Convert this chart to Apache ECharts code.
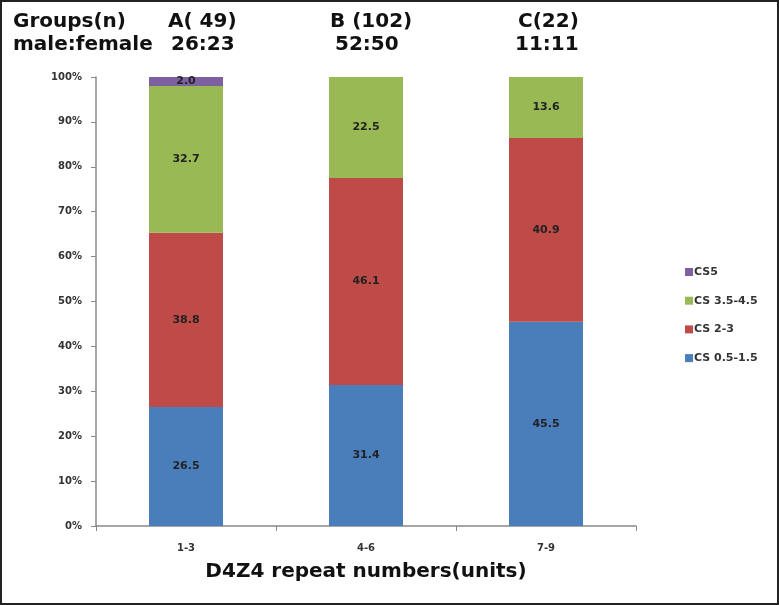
<!DOCTYPE html>
<html><head><meta charset="utf-8">
<script src="https://cdn.jsdelivr.net/npm/echarts@6/dist/echarts.min.js"></script>
<style>
html,body{margin:0;padding:0;background:#fff;}
#frame{position:absolute;left:0;top:0;width:775px;height:601px;border:2px solid #222;}
#c{position:absolute;left:0;top:0;width:779px;height:605px;}
</style></head><body>
<div id="frame"></div>
<div id="c"></div>
<script>
const categories = ['1-3', '4-6', '7-9'];
const cs05_15 = [26.5, 31.4, 45.5];
const cs2_3 = [38.8, 46.1, 40.9];
const cs35_45 = [32.7, 22.5, 13.6];
const cs5 = [2.0, 0, 0];
const seriesNames = ['CS 0.5-1.5', 'CS 2-3', 'CS 3.5-4.5', 'CS5'];
const colors = ['#4A7EBB', '#BE4B48', '#98B954', '#7D60A0'];
const yTicks = ['0%','10%','20%','30%','40%','50%','60%','70%','80%','90%','100%'];
const groupHeader = ['A( 49)', 'B (102)', 'C(22)'];
const sexRatio = ['26:23', '52:50', '11:11'];

const chart = echarts.init(document.getElementById('c'));
const dataSets = [cs05_15, cs2_3, cs35_45, cs5];
const series = dataSets.map((d, i) => ({
  name: seriesNames[i],
  type: 'bar',
  stack: 'total',
  barWidth: 74,
  itemStyle: {color: colors[i]},
  label: {
    show: true, position: 'inside', color: '#222', fontSize: 11, fontWeight: 'bold',
    fontFamily: 'DejaVu Sans',
    formatter: p => p.value > 0 ? p.value.toFixed(1) : ''
  },
  data: d
}));
const headStyle = {fontFamily: 'DejaVu Sans', fontWeight: 'bold', fontSize: 20, fill: '#111'};
const graphics = [
  {type: 'text', left: 13, top: 12, style: Object.assign({text: 'Groups(n)'}, headStyle)},
  {type: 'text', left: 13, top: 35, style: Object.assign({text: 'male:female'}, headStyle)},
];
const headX = [[168, 171], [330, 335], [518, 515]];
groupHeader.forEach((t, i) => {
  graphics.push({type: 'text', left: headX[i][0], top: 12, style: Object.assign({text: t}, headStyle)});
  graphics.push({type: 'text', left: headX[i][1], top: 35, style: Object.assign({text: sexRatio[i]}, headStyle)});
});
chart.setOption({
  animation: false,
  grid: {left: 96, right: 143, top: 77, bottom: 79},
  legend: {
    orient: 'vertical', left: 680, top: 260, itemWidth: 8, itemHeight: 8, itemGap: 14.7,
    data: ['CS5', 'CS 3.5-4.5', 'CS 2-3', 'CS 0.5-1.5'],
    textStyle: {fontSize: 11, color: '#333', fontWeight: 'bold', fontFamily: 'DejaVu Sans', lineHeight: 14, padding: [0, 0, 0, -4]},
    icon: 'rect'
  },
  xAxis: {
    type: 'category', data: categories,
    name: 'D4Z4 repeat numbers(units)', nameLocation: 'middle', nameGap: 36,
    nameTextStyle: {fontFamily: 'DejaVu Sans', fontWeight: 'bold', fontSize: 20, color: '#111'},
    axisLine: {lineStyle: {color: '#888', width: 1.5}},
    axisTick: {show: true, alignWithLabel: false, length: 5, lineStyle: {color: '#888'}},
    axisLabel: {fontSize: 10, color: '#333', fontWeight: 'bold', margin: 17, fontFamily: 'DejaVu Sans'}
  },
  yAxis: {
    type: 'value', min: 0, max: 100, interval: 10,
    axisLine: {show: true, lineStyle: {color: '#888', width: 1.5}},
    axisTick: {show: true, length: 5, inside: false, lineStyle: {color: '#888'}},
    splitLine: {show: false},
    axisLabel: {fontSize: 10, color: '#333', fontWeight: 'bold', margin: 14, fontFamily: 'DejaVu Sans',
      formatter: v => yTicks[Math.round(v / 10)]}
  },
  graphic: graphics,
  series: series
});
</script></body></html>
